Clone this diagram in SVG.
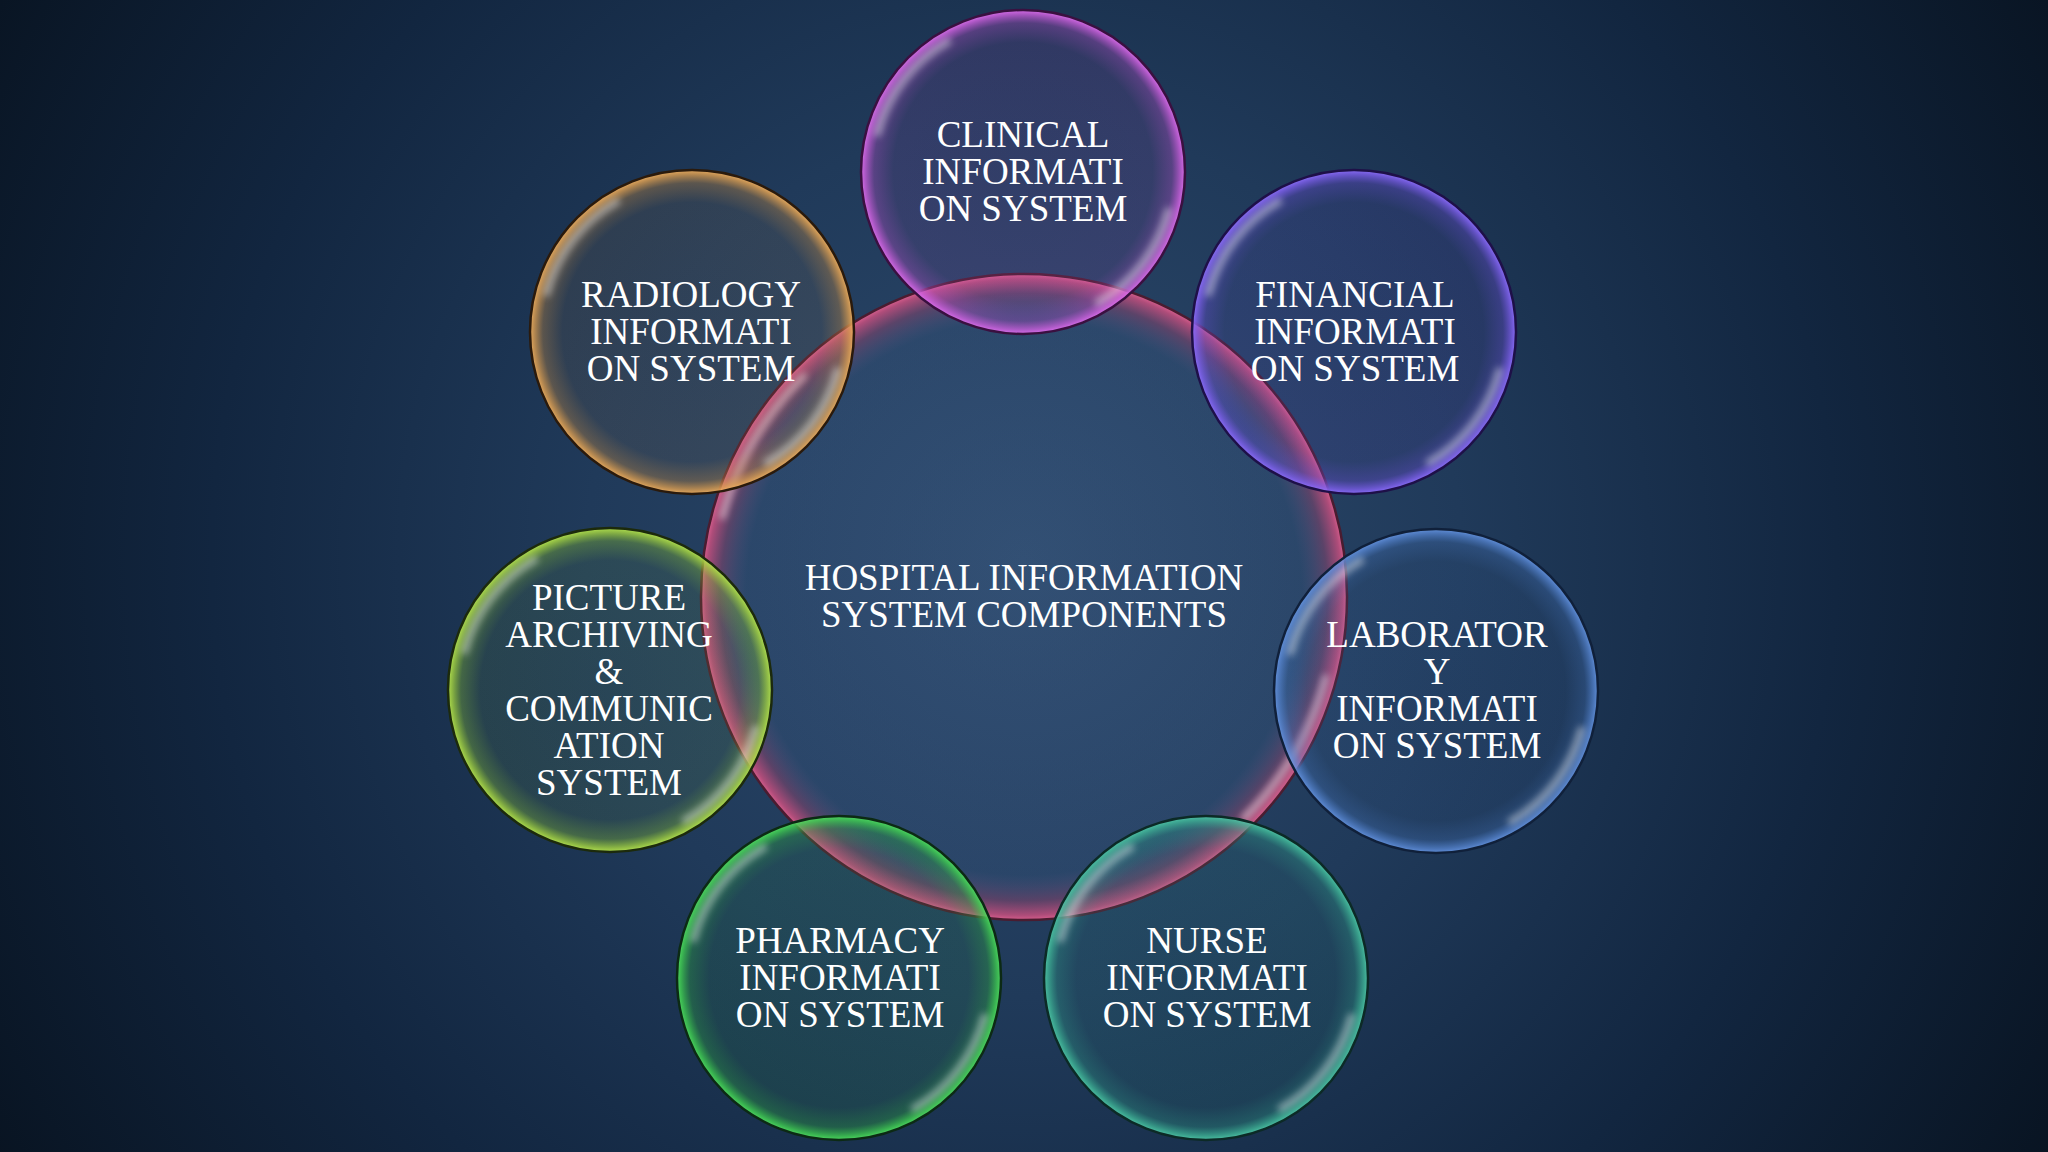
<svg xmlns="http://www.w3.org/2000/svg" xmlns:xlink="http://www.w3.org/1999/xlink" width="2048" height="1152" viewBox="0 0 2048 1152">
<style>
.lbl{font-family:"Liberation Serif","DejaVu Serif",serif;font-size:37px;fill:#ffffff;text-anchor:middle}
.rim{stroke-width:2.5}
.hl{fill:none;stroke:#ffffff;stroke-width:7;stroke-linecap:round;opacity:0.45}
</style>
<defs>
<radialGradient id="bg" cx="1024" cy="560" r="1250" gradientUnits="userSpaceOnUse">
<stop offset="0" stop-color="#2d4a6c"/>
<stop offset="0.35" stop-color="#203a5a"/>
<stop offset="0.65" stop-color="#122640"/>
<stop offset="1" stop-color="#07111d"/>
</radialGradient>
<filter id="blur" x="-20%" y="-20%" width="140%" height="140%"><feGaussianBlur stdDeviation="3.5"/></filter>
<radialGradient id="gC"><stop offset="0" stop-color="#c050d0" stop-opacity="0.10"/><stop offset="0.8" stop-color="#c050d0" stop-opacity="0.12"/><stop offset="0.92" stop-color="#c050d0" stop-opacity="0.35"/><stop offset="0.975" stop-color="#d060e0" stop-opacity="0.8"/><stop offset="1" stop-color="#e070f0" stop-opacity="0.95"/></radialGradient>
<radialGradient id="gF"><stop offset="0" stop-color="#7050e0" stop-opacity="0.10"/><stop offset="0.8" stop-color="#7050e0" stop-opacity="0.12"/><stop offset="0.92" stop-color="#7050e0" stop-opacity="0.35"/><stop offset="0.975" stop-color="#8060f0" stop-opacity="0.8"/><stop offset="1" stop-color="#9070ff" stop-opacity="0.95"/></radialGradient>
<radialGradient id="gL"><stop offset="0" stop-color="#4a7cc8" stop-opacity="0.08"/><stop offset="0.8" stop-color="#4a7cc8" stop-opacity="0.10"/><stop offset="0.92" stop-color="#4a7cc8" stop-opacity="0.3"/><stop offset="0.975" stop-color="#5a8ad8" stop-opacity="0.75"/><stop offset="1" stop-color="#6a9ae8" stop-opacity="0.9"/></radialGradient>
<radialGradient id="gN"><stop offset="0" stop-color="#30a088" stop-opacity="0.10"/><stop offset="0.8" stop-color="#30a088" stop-opacity="0.12"/><stop offset="0.92" stop-color="#30a088" stop-opacity="0.35"/><stop offset="0.975" stop-color="#40b898" stop-opacity="0.8"/><stop offset="1" stop-color="#50c8a8" stop-opacity="0.95"/></radialGradient>
<radialGradient id="gP"><stop offset="0" stop-color="#30b040" stop-opacity="0.10"/><stop offset="0.8" stop-color="#30b040" stop-opacity="0.12"/><stop offset="0.92" stop-color="#30b040" stop-opacity="0.35"/><stop offset="0.975" stop-color="#40d050" stop-opacity="0.8"/><stop offset="1" stop-color="#50e060" stop-opacity="0.95"/></radialGradient>
<radialGradient id="gA"><stop offset="0" stop-color="#90c830" stop-opacity="0.08"/><stop offset="0.8" stop-color="#90c830" stop-opacity="0.10"/><stop offset="0.92" stop-color="#90c830" stop-opacity="0.35"/><stop offset="0.975" stop-color="#a8d840" stop-opacity="0.8"/><stop offset="1" stop-color="#b8e850" stop-opacity="0.95"/></radialGradient>
<radialGradient id="gR"><stop offset="0" stop-color="#d09040" stop-opacity="0.08"/><stop offset="0.8" stop-color="#d09040" stop-opacity="0.10"/><stop offset="0.92" stop-color="#d09040" stop-opacity="0.35"/><stop offset="0.975" stop-color="#e0a050" stop-opacity="0.8"/><stop offset="1" stop-color="#f0b060" stop-opacity="0.95"/></radialGradient>
<radialGradient id="gH"><stop offset="0" stop-color="#5a7ab0" stop-opacity="0.12"/><stop offset="0.86" stop-color="#5a7ab0" stop-opacity="0.12"/><stop offset="0.94" stop-color="#c04a78" stop-opacity="0.35"/><stop offset="0.985" stop-color="#d05080" stop-opacity="0.8"/><stop offset="1" stop-color="#e06090" stop-opacity="0.95"/></radialGradient>
<g id="hls">
<path class="hl" filter="url(#blur)" d="M -145.2 -38.9 A 150.3 150.3 0 0 1 -75.2 -130.2"/>
<path class="hl" filter="url(#blur)" d="M 145.2 38.9 A 150.3 150.3 0 0 1 75.2 130.2"/>
</g>
<g id="hlb">
<path class="hl" filter="url(#blur)" d="M -301.4 -80.8 A 312 312 0 0 1 -220.6 -220.6"/>
<path class="hl" filter="url(#blur)" d="M 301.4 80.8 A 312 312 0 0 1 220.6 220.6"/>
</g>
</defs>
<rect width="2048" height="1152" fill="url(#bg)"/>

<g id="node-hospital">
<circle cx="1024" cy="597" r="323" fill="url(#gH)" class="rim" stroke="#4a1c30"/>
<use xlink:href="#hlb" x="1024" y="597"/>
<text class="lbl" x="1024" y="590">HOSPITAL INFORMATION</text>
<text class="lbl" x="1024" y="627">SYSTEM COMPONENTS</text>
</g>

<g id="node-clinical">
<circle cx="1023" cy="172" r="162" fill="url(#gC)" class="rim" stroke="#3a1040"/>
<use xlink:href="#hls" x="1023" y="172"/>
<text class="lbl" x="1023" y="147">CLINICAL</text>
<text class="lbl" x="1023" y="184">INFORMATI</text>
<text class="lbl" x="1023" y="221">ON SYSTEM</text>
</g>

<g id="node-financial">
<circle cx="1354" cy="332" r="162" fill="url(#gF)" class="rim" stroke="#1e1048"/>
<use xlink:href="#hls" x="1354" y="332"/>
<text class="lbl" x="1355" y="307">FINANCIAL</text>
<text class="lbl" x="1355" y="344">INFORMATI</text>
<text class="lbl" x="1355" y="381">ON SYSTEM</text>
</g>

<g id="node-laboratory">
<circle cx="1436" cy="691" r="162" fill="url(#gL)" class="rim" stroke="#10203a"/>
<use xlink:href="#hls" x="1436" y="691"/>
<text class="lbl" x="1437" y="647">LABORATOR</text>
<text class="lbl" x="1437" y="684">Y</text>
<text class="lbl" x="1437" y="721">INFORMATI</text>
<text class="lbl" x="1437" y="758">ON SYSTEM</text>
</g>

<g id="node-nurse">
<circle cx="1206" cy="978" r="162" fill="url(#gN)" class="rim" stroke="#0c2a26"/>
<use xlink:href="#hls" x="1206" y="978"/>
<text class="lbl" x="1207" y="953">NURSE</text>
<text class="lbl" x="1207" y="990">INFORMATI</text>
<text class="lbl" x="1207" y="1027">ON SYSTEM</text>
</g>

<g id="node-pharmacy">
<circle cx="839" cy="978" r="162" fill="url(#gP)" class="rim" stroke="#0c2a14"/>
<use xlink:href="#hls" x="839" y="978"/>
<text class="lbl" x="840" y="953">PHARMACY</text>
<text class="lbl" x="840" y="990">INFORMATI</text>
<text class="lbl" x="840" y="1027">ON SYSTEM</text>
</g>

<g id="node-picture">
<circle cx="610" cy="690" r="162" fill="url(#gA)" class="rim" stroke="#1c2a0c"/>
<use xlink:href="#hls" x="610" y="690"/>
<text class="lbl" x="609" y="610">PICTURE</text>
<text class="lbl" x="609" y="647">ARCHIVING</text>
<text class="lbl" x="609" y="684">&amp;</text>
<text class="lbl" x="609" y="721">COMMUNIC</text>
<text class="lbl" x="609" y="758">ATION</text>
<text class="lbl" x="609" y="795">SYSTEM</text>
</g>

<g id="node-radiology">
<circle cx="692" cy="332" r="162" fill="url(#gR)" class="rim" stroke="#2a1a0c"/>
<use xlink:href="#hls" x="692" y="332"/>
<text class="lbl" x="691" y="307">RADIOLOGY</text>
<text class="lbl" x="691" y="344">INFORMATI</text>
<text class="lbl" x="691" y="381">ON SYSTEM</text>
</g>

<g id="connectors"/>
</svg>
